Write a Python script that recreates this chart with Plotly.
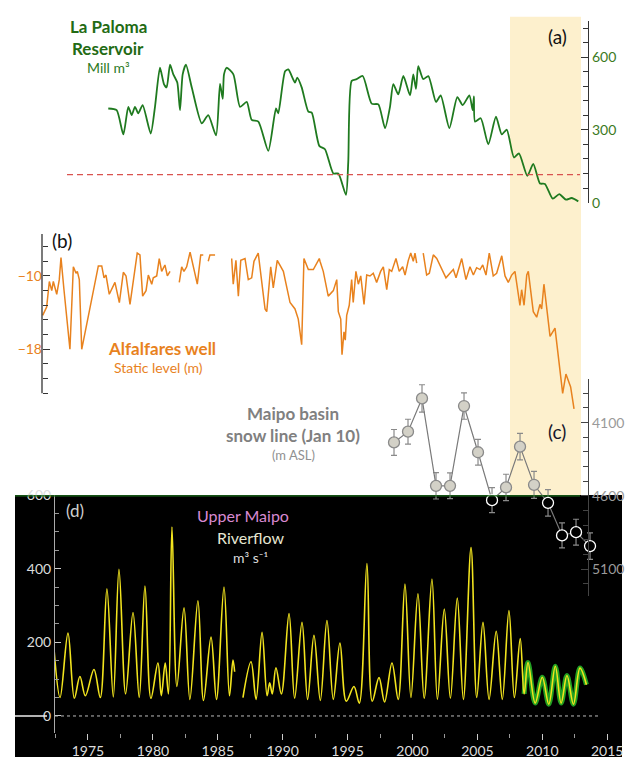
import plotly.graph_objects as go

W, H = 627, 765

# ---------------- data ----------------
# (a) La Paloma reservoir volume (Mill m3)
paloma_years = [1981.71, 1982.30, 1982.77, 1983.12, 1983.36, 1983.59, 1983.82, 1984.13, 1984.70, 1985.00,
                1985.35, 1985.63, 1985.82, 1986.06, 1986.29, 1986.57, 1986.76, 1986.95, 1987.18, 1987.59,
                1988.29, 1988.75, 1989.30, 1989.58, 1989.77, 1989.86, 1990.05, 1990.52, 1990.99, 1991.46,
                1991.81, 1992.28, 1992.98, 1993.52, 1993.68, 1994.16, 1994.39, 1994.86, 1995.02, 1995.33,
                1995.80, 1996.04, 1996.57, 1996.97, 1997.56, 1997.91, 1998.45, 1998.61, 1998.85, 1999.20,
                1999.63, 2000.26, 2000.73, 2001.20, 2001.55, 2001.78, 2002.13, 2002.49, 2002.96, 2003.19,
                2003.38, 2003.54, 2003.89, 2004.25, 2004.79, 2005.12, 2005.73, 2006.29, 2006.67, 2007.14,
                2007.37, 2007.46, 2007.54, 2007.94, 2008.47, 2009.01, 2009.42, 2009.77, 2010.28, 2010.63,
                2011.22, 2011.64, 2012.11, 2012.46, 2013.01, 2013.47, 2013.94, 2014.34, 2014.81]
paloma_vol = [388, 381, 281, 395, 361, 395, 368, 402, 285, 395,
              556, 489, 475, 569, 529, 495, 381, 529, 569, 475,
              327, 361, 277, 489, 428, 529, 556, 529, 395, 415,
              341, 334, 213, 388, 368, 542, 549, 495, 515, 475,
              375, 371, 234, 220, 120, 120, 32, 166, 502, 509,
              522, 408, 405, 307, 395, 489, 446, 522, 442, 529,
              469, 563, 509, 522, 415, 442, 307, 435, 402, 442,
              381, 438, 334, 348, 240, 354, 281, 301, 186, 203,
              110, 160, 79, 77, 16, 35, 12, 19, 5]
paloma_threshold = 115

# (b) Alfalfares well static level (m); None marks gaps in the record
well_years = [1977.09, 1977.37, 1977.56, 1977.73, 1977.84, 1978.08, 1978.26, 1978.38, 1978.59, 1979.01,
              1979.25, 1979.44, 1979.53, 1979.67, 1979.84, 1981.01, 1981.25, 1981.41, 1981.55, 1981.78,
              1982.18, 1982.49, 1982.77, 1982.96, 1983.24, 1983.75, 1983.94, 1984.13, 1984.37, 1984.53,
              1984.77, 1984.88, 1985.12, 1985.30, 1985.47, 1985.70, 1985.87, 1986.06, 1986.40, 1986.71,
              1986.88, 1987.04, 1987.23, 1987.47, 1987.70, 1987.98, 1988.22, 1988.40, 1988.58, 1988.75,
              1988.87, 1989.23, 1989.80, 1990.40, 1990.51, 1990.70, 1990.87, 1991.04, 1991.34, 1991.57,
              1991.81, 1991.97, 1992.27, 1992.75, 1992.87, 1993.15, 1993.33, 1993.61, 1994.04, 1994.51,
              1994.86, 1995.09, 1995.33, 1995.49, 1995.80, 1996.15, 1996.57, 1996.62, 1996.85, 1997.20,
              1997.56, 1997.80, 1997.91, 1998.08, 1998.17, 1998.31, 1998.40, 1998.50, 1998.68, 1998.85,
              1998.96, 1999.15, 1999.32, 1999.49, 1999.72, 1999.91, 2000.14, 2000.37, 2000.61, 2000.89,
              2001.08, 2001.32, 2001.50, 2001.67, 2001.97, 2002.20, 2002.44, 2002.61, 2002.84, 2003.01,
              2003.19, 2003.31, 2003.43, 2003.66, 2003.89, 2004.13, 2004.32, 2004.60, 2004.84, 2005.12,
              2005.49, 2005.77, 2006.01, 2006.20, 2006.60, 2006.90, 2007.18, 2007.42, 2007.65, 2007.89,
              2008.08, 2008.31, 2008.54, 2008.82, 2009.06, 2009.42, 2009.65, 2009.88, 2010.12, 2010.35,
              2010.70, 2010.82, 2010.99, 2011.18, 2011.29, 2011.64, 2011.88, 2012.11, 2012.23, 2012.39,
              2012.63, 2012.82, 2013.17, 2013.47, 2013.71, 2013.94, 2014.27, 2014.51]
well_level = [-14.3, -13.4, -10.6, -11.6, -10.6, -12.0, -10.4, -8.0, -11.5, -18.0,
              -9.0, -9.7, -9.5, -10.4, -18.0, -8.9, -8.9, -10.2, -9.9, -12.0,
              -10.7, -12.9, -9.6, -10.0, -13.1, -7.5, -7.7, -12.2, -11.6, -9.9,
              -10.9, -10.2, -10.0, -8.1, -9.5, -8.8, -10.0, -9.5, None, -10.7,
              -9.0, -9.5, -9.0, -7.4, -9.0, -10.9, -7.7, -7.7, None, -8.4,
              -7.7, -7.7, None, -8.1, -10.9, -8.3, -12.2, -8.3, -8.1, -10.4,
              -10.2, -8.4, -7.5, -13.6, -13.9, -9.0, -11.3, -8.3, -9.5, -12.9,
              -13.6, -14.7, -17.5, -8.1, -9.3, -9.3, -8.1, -8.4, -9.5, -12.2,
              -11.6, -10.4, -13.9, -14.7, -18.6, -16.1, -17.0, -14.3, -13.2, -10.4,
              -12.9, -9.5, -10.9, -10.0, -13.1, -9.9, -10.0, -9.7, -10.7, -9.5,
              -9.0, -11.5, -9.3, -9.5, -8.1, -9.5, -9.0, -9.9, -8.3, -7.5,
              -8.4, -7.5, -8.6, None, -7.5, -9.9, -9.7, -7.7, -8.1, -9.0,
              -10.2, -9.7, -9.3, -10.2, -8.1, -10.4, -9.0, -9.9, -9.1, -9.3,
              -8.8, -9.9, -7.5, -10.0, -9.7, -7.8, -10.0, -10.7, -9.9, -9.5,
              -13.2, -11.5, -13.2, -9.9, -9.5, -13.9, -14.5, -13.1, -13.6, -10.9,
              -14.3, -16.6, -15.7, -20.0, -22.8, -20.7, -22.1, -24.5]

# (c) Maipo basin snow line on Jan 10 (m ASL)
snow_years = [2001, 2002, 2003, 2004, 2005, 2006, 2007, 2008, 2009, 2010, 2011, 2012, 2013, 2014, 2015]
snow_line = [4235, 4162, 3935, 4531, 4531, 3987, 4302, 4629, 4542, 4264, 4524, 4647, 4869, 4847, 4942]
snow_err = [88, 85, 93, 90, 88, 90, 88, 85, 90, 90, 92, 90, 85, 88, 90]

# (d) Upper Maipo riverflow (m3 s-1)
flow_dates = [1972.40, 1972.85, 1973.46, 1973.95, 1974.38, 1974.80, 1975.46, 1975.95, 1976.46, 1976.95,
              1977.39, 1977.90, 1978.47, 1978.95, 1979.39, 1979.85, 1980.39, 1980.65, 1980.95, 1981.20,
              1981.47, 1981.85, 1982.40, 1982.85, 1983.47, 1983.90, 1984.48, 1984.90, 1985.48, 1985.90,
              1986.17, 1986.30, 1986.60, 1986.94, 1987.56, 1987.95, 1988.41, 1988.80, 1989.00, 1989.20,
              1989.48, 1989.90, 1990.49, 1990.92, 1991.49, 1991.92, 1992.41, 1992.90, 1993.41, 1993.90,
              1994.41, 1994.90, 1995.49, 1995.90, 1996.49, 1996.90, 1997.42, 1997.85, 1998.42, 1998.90,
              1999.42, 1999.88, 2000.42, 2000.90, 2001.50, 2001.92, 2002.45, 2002.92, 2003.45, 2003.92,
              2004.51, 2004.95, 2005.43, 2005.90, 2006.45, 2006.92, 2007.43, 2007.85, 2008.30, 2008.60,
              2008.90, 2009.45, 2010.00, 2010.50, 2011.00, 2011.45, 2011.90, 2012.40, 2012.90, 2013.40]
flow_values = [175, 50, 225, 48, 107, 55, 126, 50, 345, 52,
               398, 60, 281, 50, 353, 48, 144, 55, 144, 60,
               513, 80, 294, 45, 313, 42, 214, 45, 350, 55,
               152, 120, None, 50, 147, 45, 227, 55, 90, 60,
               131, 60, 278, 48, 254, 45, 219, 42, 259, 45,
               198, 40, 80, 35, 414, 40, 104, 38, 144, 45,
               358, 50, 332, 48, 372, 45, 290, 48, 320, 45,
               457, 50, 254, 45, 230, 45, 286, 50, 210, 60,
               145, 35, 105, 32, 135, 35, 110, 32, 130, 85]
recent_dates = [2008.60, 2008.90, 2009.45, 2010.00, 2010.50, 2011.00, 2011.45, 2011.90, 2012.40, 2012.90, 2013.40]
recent_values = [60, 145, 35, 105, 32, 135, 35, 110, 32, 130, 85]

drought_start, drought_end = 2010, 2015
year_ticks = [1975, 1980, 1985, 1990, 1995, 2000, 2005, 2010, 2015]

# ---------------- helpers (layout positions in pixels -> paper) ----------------
def px(x):
    return x / W

def py(y):
    return 1 - y / H

FONT = "Lato"
GREEN = "#1f7a1f"
ORANGE = "#e8821e"
GRAY = "#808080"

fig = go.Figure()

# (a) reservoir
fig.add_trace(go.Scatter(x=paloma_years, y=paloma_vol, mode="lines", xaxis="x", yaxis="y",
                         line=dict(color=GREEN, width=1.8, shape="spline", smoothing=0.6),
                         hoverinfo="skip", showlegend=False))
# (b) well
fig.add_trace(go.Scatter(x=well_years, y=well_level, mode="lines", xaxis="x", yaxis="y2",
                         connectgaps=False, line=dict(color=ORANGE, width=1.5),
                         hoverinfo="skip", showlegend=False))
# (d) riverflow: green halo for recent years, yellow line on top
fig.add_trace(go.Scatter(x=recent_dates, y=recent_values, mode="lines", xaxis="x4", yaxis="y4",
                         line=dict(color="#22a022", width=5, shape="spline", smoothing=1.0),
                         hoverinfo="skip", showlegend=False))
fig.add_trace(go.Scatter(x=flow_dates, y=flow_values, mode="lines", xaxis="x4", yaxis="y4",
                         connectgaps=False,
                         line=dict(color="#f2e41e", width=1.6, shape="spline", smoothing=1.0),
                         hoverinfo="skip", showlegend=False))
# (c) snow line (points over the black panel drawn inverted)
snow_dark = 3800 + (497 - 378) / 0.15
fill_cols = ["#000000" if v > snow_dark else "#d3d1c7" for v in snow_line]
edge_cols = ["#ffffff" if v > snow_dark else "#8a8a8a" for v in snow_line]
fig.add_trace(go.Scatter(x=snow_years, y=snow_line, mode="lines+markers", xaxis="x3", yaxis="y3",
                         line=dict(color="#7a7a7a", width=1.2),
                         marker=dict(size=11, color=fill_cols, line=dict(color=edge_cols, width=1.3)),
                         error_y=dict(type="data", array=snow_err, visible=True, color="#8a8a8a",
                                      thickness=1.2, width=3),
                         hoverinfo="skip", showlegend=False))

top_dom = [0, px(588)]
x_top_range = [1974.085, 1974.085 + 588 / 14.2]

shapes = [
    # black riverflow panel background
    dict(type="rect", xref="paper", yref="paper", x0=px(15), x1=px(622), y0=0, y1=py(497),
         fillcolor="#000000", line=dict(width=0), layer="below"),
    # drought shading
    dict(type="rect", xref="x", yref="paper", x0=drought_start, x1=drought_end, y0=py(497), y1=py(8),
         fillcolor="#fdf0cd", line=dict(width=0), layer="below"),
    # green rule on top of black panel
    dict(type="line", xref="paper", yref="paper", x0=px(15), x1=px(580), y0=py(498), y1=py(498),
         line=dict(color="#1c6e1c", width=1.2)),
    # reservoir threshold
    dict(type="line", xref="x", yref="y", x0=1974.085 + 67 / 14.2, x1=1974.085 + 580 / 14.2,
         y0=paloma_threshold, y1=paloma_threshold, line=dict(color="#d9534f", width=1.2, dash="6px,4px")),
    # well axis line
    dict(type="line", xref="paper", yref="y2", x0=px(42), x1=px(42), y0=-5.41, y1=-22.8,
         line=dict(color="#333333", width=1.3)),
    # riverflow zero line
    dict(type="line", xref="paper", yref="y4", x0=px(55), x1=px(600), y0=0, y1=0,
         line=dict(color="#bbbbbb", width=1, dash="dot")),
    dict(type="line", xref="paper", yref="y4", x0=px(15), x1=px(47), y0=0, y1=0,
         line=dict(color="#eeeeee", width=1.5)),
]

def ann(text, x, y, size, color, bold=False):
    return dict(text=("<b>%s</b>" % text) if bold else text, x=px(x), y=py(y), xref="paper", yref="paper",
                showarrow=False, xanchor="center", yanchor="middle",
                font=dict(family=FONT, size=size, color=color))

annotations = [
    ann("La Paloma", 108, 18, 17, "#236b14", True),
    ann("Reservoir", 108, 40, 17, "#236b14", True),
    ann("Mill m³", 108, 60, 14, "#2d7a1e"),
    ann("(a)", 557, 28, 19, "#111111"),
    ann("(b)", 62, 237, 19, "#111111"),
    ann("Alfalfares well", 162, 347, 17, ORANGE, True),
    ann("Static level (m)", 158, 367, 14, ORANGE),
    ann("Maipo basin", 293, 414, 17, GRAY, True),
    ann("snow line (Jan 10)", 293, 436, 17, GRAY, True),
    ann("(m ASL)", 293, 456, 13, "#909090"),
    ann("(c)", 557, 432, 19, "#15152a"),
    ann("(d)", 75, 513, 17, "#cfcfcf"),
    ann("Upper Maipo", 243, 518, 16, "#d98ad2"),
    ann("Riverflow", 250, 540, 16, "#e6e6d2"),
    ann("m³ s⁻¹", 250, 561, 14, "#dddddd"),
]

fig.update_layout(
    width=W, height=H, margin=dict(l=0, r=0, t=0, b=0),
    paper_bgcolor="white", plot_bgcolor="rgba(0,0,0,0)",
    font=dict(family=FONT, size=14),
    showlegend=False,
    shapes=shapes, annotations=annotations,
    xaxis=dict(domain=top_dom, range=x_top_range, visible=False, anchor="y"),
    yaxis=dict(domain=[py(198), py(12)], range=[0, 750], side="right", anchor="x",
               showline=True, linecolor="#333333", linewidth=1.3, showgrid=False, zeroline=False,
               ticks="inside", ticklen=7, tickcolor="#333333", tick0=0, dtick=300,
               tickfont=dict(color="#3b7a1e", size=14),
               minor=dict(ticks="inside", ticklen=5, tickcolor="#333333", tick0=0, dtick=60, showgrid=False)),
    yaxis2=dict(domain=[py(410), py(230)], range=[-24.61, -5.41], anchor="free", position=px(42),
                side="left", showline=False, showgrid=False, zeroline=False,
                ticks="inside", ticklen=7, tickcolor="#333333", tick0=-10, dtick=8,
                tickvals=[-10, -18], tickfont=dict(color=ORANGE, size=14),
                minor=dict(ticks="inside", ticklen=5, tickcolor="#333333",
                           tickvals=[-5.2 - 1.6 * k for k in range(12)], showgrid=False)),
    xaxis3=dict(domain=[0, 1], range=[1972.86, 2017.64], visible=False, anchor="y3"),
    yaxis3=dict(domain=[py(600), py(378)], range=[3800 + 222 / 0.15, 3800], anchor="free",
                position=px(588), side="right", showline=True, linecolor="#444444", linewidth=1.3,
                showgrid=False, zeroline=False, ticks="inside", ticklen=7, tickcolor="#444444",
                tick0=4100, dtick=500, tickfont=dict(color="#9a9a9a", size=14),
                minor=dict(ticks="inside", ticklen=5, tickcolor="#444444", tick0=4100, dtick=100,
                           showgrid=False)),
    xaxis4=dict(domain=[px(55), 1.0], range=[1972.46, 1975 + (627 - 88) / 12.98], anchor="y4",
                showline=False, showgrid=False, zeroline=False, ticks="outside", ticklen=6,
                tickcolor="#cccccc", tickvals=year_ticks, tickfont=dict(color="#dcdcdc", size=14),
                minor=dict(ticks="outside", ticklen=4, tickcolor="#999999", dtick=2.5, tick0=1975,
                           showgrid=False)),
    yaxis4=dict(domain=[py(740), py(497)], range=[-45, 600], anchor="x4", showline=True,
                linecolor="#aaaaaa", linewidth=1, showgrid=False, zeroline=False,
                ticks="inside", ticklen=6, tickcolor="#cccccc", tick0=0, dtick=200,
                tickfont=dict(color="#dcdcdc", size=14),
                minor=dict(ticks="inside", ticklen=4, tickcolor="#999999", tick0=0, dtick=50,
                           showgrid=False)),
)

fig.write_html("out.html")
